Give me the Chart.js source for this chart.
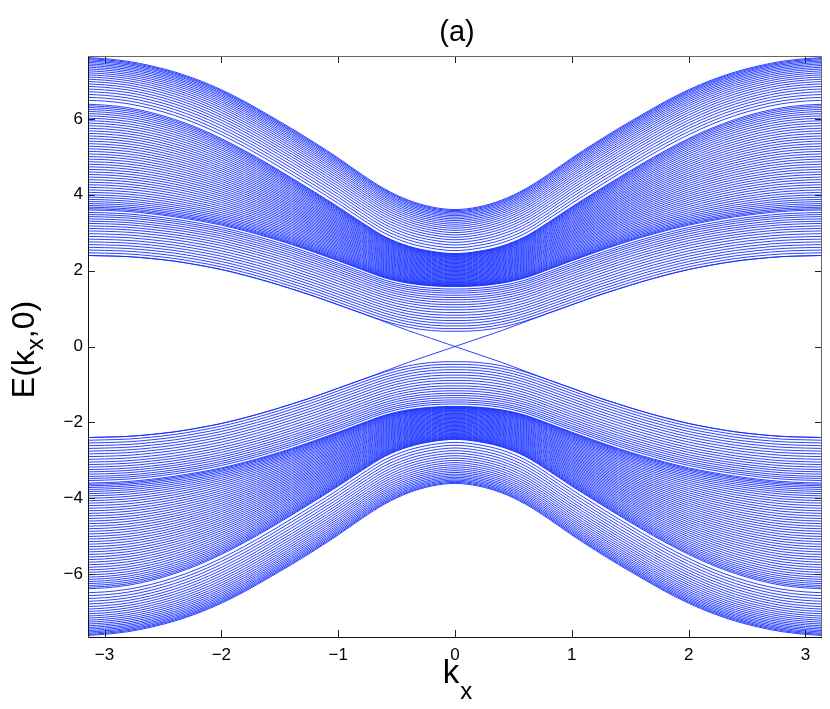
<!DOCTYPE html>
<html>
<head>
<meta charset="utf-8">
<script src="https://cdn.jsdelivr.net/npm/chart.js@4.4.0/dist/chart.umd.min.js"></script>
<style>
  body { margin: 0; background: #fff; }
  #wrap { width: 830px; height: 709px; }
</style>
</head>
<body>
<div id="wrap"><canvas id="bandChart"></canvas></div>
<script>
// kx sample points (0..pi), curves are symmetric in kx
var kxHalf = [0, 0.2, 0.4, 0.6, 0.8, 1.0, 1.2, 1.4, 1.6, 1.8, 2.0, 2.2, 2.4, 2.6, 2.8, 3.0, 3.1416];

// band boundaries (upper half, E > 0)
var band1Bottom = [0.40, 0.42, 0.51, 0.67, 0.88, 1.10, 1.32, 1.52, 1.71, 1.88, 2.03, 2.15, 2.25, 2.32, 2.37, 2.39, 2.40];
var band1Top    = [1.58, 1.60, 1.67, 1.81, 2.03, 2.26, 2.48, 2.69, 2.88, 3.05, 3.20, 3.32, 3.42, 3.50, 3.56, 3.59, 3.60];
var band2Top    = [2.46, 2.52, 2.66, 2.91, 3.29, 3.70, 4.09, 4.47, 4.84, 5.19, 5.51, 5.79, 6.02, 6.20, 6.33, 6.40, 6.42];
var band3Top    = [3.61, 3.68, 3.86, 4.15, 4.54, 4.97, 5.37, 5.75, 6.11, 6.46, 6.77, 7.03, 7.24, 7.40, 7.52, 7.59, 7.62];

// where each line sits inside its band (0 = band bottom, 1 = band top)
var band1Levels = [0, 0.06, 0.12, 0.18, 0.24, 0.3, 0.36, 0.42, 0.48, 0.54, 0.595, 0.65, 0.705, 0.755, 0.805, 0.855, 0.9, 0.945];
var band2Levels = [0, 0.012, 0.026, 0.042, 0.06, 0.079, 0.099, 0.12, 0.142, 0.165, 0.188, 0.212, 0.236, 0.26, 0.284,
                   0.308, 0.332, 0.356, 0.38, 0.404, 0.428, 0.452, 0.476, 0.5, 0.524, 0.548, 0.572, 0.596, 0.62, 0.644,
                   0.668, 0.692, 0.716, 0.74, 0.764, 0.788, 0.812, 0.835, 0.858, 0.88, 0.901, 0.921, 0.94, 0.958, 0.974, 0.988];
var band3Levels = [0.06, 0.125, 0.188, 0.249, 0.308, 0.365, 0.42, 0.473, 0.524, 0.573, 0.62, 0.665, 0.708, 0.749,
                   0.788, 0.825, 0.86, 0.893, 0.924, 0.952, 0.977, 1.0];

// edge state crossing zero at kx = 0
var edgeK = [0.6, 0.4, 0.2, 0];
var edgeE = [0.65, 0.42, 0.21, 0];

var xTicks = [-3, -2, -1, 0, 1, 2, 3];
var yTicks = [-6, -4, -2, 0, 2, 4, 6];

var lineColor = 'rgb(20,45,255)';

function bandLine(lo, hi, t, sign) {
    var pts = [];
    for (var j = kxHalf.length - 1; j >= 0; j--) {
        pts.push({x: -kxHalf[j], y: sign * (lo[j] + t * (hi[j] - lo[j]))});
    }
    for (var j = 1; j < kxHalf.length; j++) {
        pts.push({x: kxHalf[j], y: sign * (lo[j] + t * (hi[j] - lo[j]))});
    }
    return pts;
}

function edgeLine(dir) {
    var pts = [];
    for (var j = kxHalf.length - 1; j >= 0; j--) {
        if (kxHalf[j] > 0.7) pts.push({x: -dir * kxHalf[j], y: band1Bottom[j]});
    }
    for (var i = 0; i < edgeK.length; i++) pts.push({x: -dir * edgeK[i], y: edgeE[i]});
    for (var i = edgeK.length - 2; i >= 0; i--) pts.push({x: dir * edgeK[i], y: -edgeE[i]});
    for (var j = 0; j < kxHalf.length; j++) {
        if (kxHalf[j] > 0.7) pts.push({x: dir * kxHalf[j], y: -band1Bottom[j]});
    }
    if (dir < 0) pts.reverse();
    return pts;
}

var datasets = [];
function addSet(pts) {
    datasets.push({
        data: pts,
        borderColor: lineColor,
        borderWidth: 0.9,
        pointRadius: 0,
        fill: false,
        cubicInterpolationMode: 'monotone'
    });
}

[1, -1].forEach(function(s) {
    band1Levels.forEach(function(t) { addSet(bandLine(band1Bottom, band1Top, t, s)); });
    band2Levels.forEach(function(t) { addSet(bandLine(band1Top, band2Top, t, s)); });
    band3Levels.forEach(function(t) { addSet(bandLine(band2Top, band3Top, t, s)); });
});
addSet(edgeLine(1));
addSet(edgeLine(-1));

var fontFam = '"Liberation Sans", Arial, Helvetica, sans-serif';

var axisDecor = {
    id: 'axisDecor',
    afterDatasetsDraw: function(chart) {
        var ctx = chart.ctx, a = chart.chartArea;
        var xs = chart.scales.x, ys = chart.scales.y;
        ctx.save();
        ctx.lineWidth = 1;
        ctx.strokeStyle = '#222';
        ctx.beginPath();
        xs.ticks.forEach(function(t) {
            var px = Math.round(xs.getPixelForValue(t.value)) + 0.5;
            ctx.moveTo(px, a.bottom); ctx.lineTo(px, a.bottom - 7);
            ctx.moveTo(px, a.top); ctx.lineTo(px, a.top + 7);
        });
        ys.ticks.forEach(function(t) {
            var py = Math.round(ys.getPixelForValue(t.value)) + 0.5;
            ctx.moveTo(a.left, py); ctx.lineTo(a.left + 7, py);
            ctx.moveTo(a.right, py); ctx.lineTo(a.right - 7, py);
        });
        ctx.stroke();
        // axes box
        ctx.beginPath();
        ctx.strokeStyle = '#111';
        ctx.moveTo(a.left + 0.5, a.top); ctx.lineTo(a.left + 0.5, a.bottom + 0.5);
        ctx.lineTo(a.right, a.bottom + 0.5);
        ctx.stroke();
        ctx.beginPath();
        ctx.strokeStyle = '#666';
        ctx.moveTo(a.left, a.top + 0.5); ctx.lineTo(a.right - 0.5, a.top + 0.5);
        ctx.lineTo(a.right - 0.5, a.bottom);
        ctx.stroke();
        ctx.restore();
    },
    afterDraw: function(chart) {
        var ctx = chart.ctx, a = chart.chartArea;
        ctx.save();
        ctx.fillStyle = '#000';
        ctx.textBaseline = 'alphabetic';
        // title
        ctx.font = '29px ' + fontFam;
        ctx.textAlign = 'center';
        ctx.fillText('(a)', (a.left + a.right) / 2 + 2, 41);
        // x label
        ctx.textAlign = 'left';
        ctx.font = '33px ' + fontFam;
        var kw = ctx.measureText('k').width;
        ctx.font = '24px ' + fontFam;
        var sw = ctx.measureText('x').width;
        var x0 = (a.left + a.right) / 2 + 2 - (kw + sw) / 2;
        ctx.font = '33px ' + fontFam;
        ctx.fillText('k', x0, 683);
        ctx.font = '24px ' + fontFam;
        ctx.fillText('x', x0 + kw + 1, 699);
        // y label
        ctx.translate(34, (a.top + a.bottom) / 2 + 3);
        ctx.rotate(-Math.PI / 2);
        ctx.font = '32px ' + fontFam;
        var w1 = ctx.measureText('E(k').width, w3 = ctx.measureText(',0)').width;
        ctx.font = '24px ' + fontFam;
        var w2 = ctx.measureText('x').width;
        var sx = -(w1 + w2 + w3) / 2;
        ctx.font = '32px ' + fontFam;
        ctx.fillText('E(k', sx, 0);
        ctx.font = '24px ' + fontFam;
        ctx.fillText('x', sx + w1, 9);
        ctx.font = '32px ' + fontFam;
        ctx.fillText(',0)', sx + w1 + w2, 0);
        ctx.restore();
    }
};

function minusLabel(v) {
    return String(v).replace('-', '\u2212');
}

var ctx = document.getElementById('bandChart').getContext('2d');
var bandChart = new Chart(ctx, {
    type: 'line',
    data: { datasets: datasets },
    options: {
        responsive: true,
        maintainAspectRatio: false,
        animation: false,
        events: [],
        layout: { padding: { left: 0, top: 56, right: 8, bottom: 0 } },
        plugins: { legend: { display: false }, tooltip: { enabled: false }, title: { display: false } },
        scales: {
            x: {
                type: 'linear',
                min: -Math.PI,
                max: Math.PI,
                grid: { display: false, drawTicks: false },
                border: { display: false },
                afterBuildTicks: function(s) { s.ticks = xTicks.map(function(v) { return {value: v}; }); },
                afterFit: function(s) { s.height = 72; },
                ticks: {
                    padding: 8,
                    color: '#000',
                    font: { size: 17, family: fontFam },
                    maxRotation: 0,
                    callback: minusLabel
                }
            },
            y: {
                type: 'linear',
                min: -7.66,
                max: 7.66,
                grid: { display: false, drawTicks: false },
                border: { display: false },
                afterBuildTicks: function(s) { s.ticks = yTicks.map(function(v) { return {value: v}; }); },
                afterFit: function(s) { s.width = 88; },
                ticks: {
                    padding: 5,
                    color: '#000',
                    font: { size: 17, family: fontFam },
                    callback: minusLabel
                }
            }
        }
    },
    plugins: [axisDecor]
});
</script>
</body>
</html>
